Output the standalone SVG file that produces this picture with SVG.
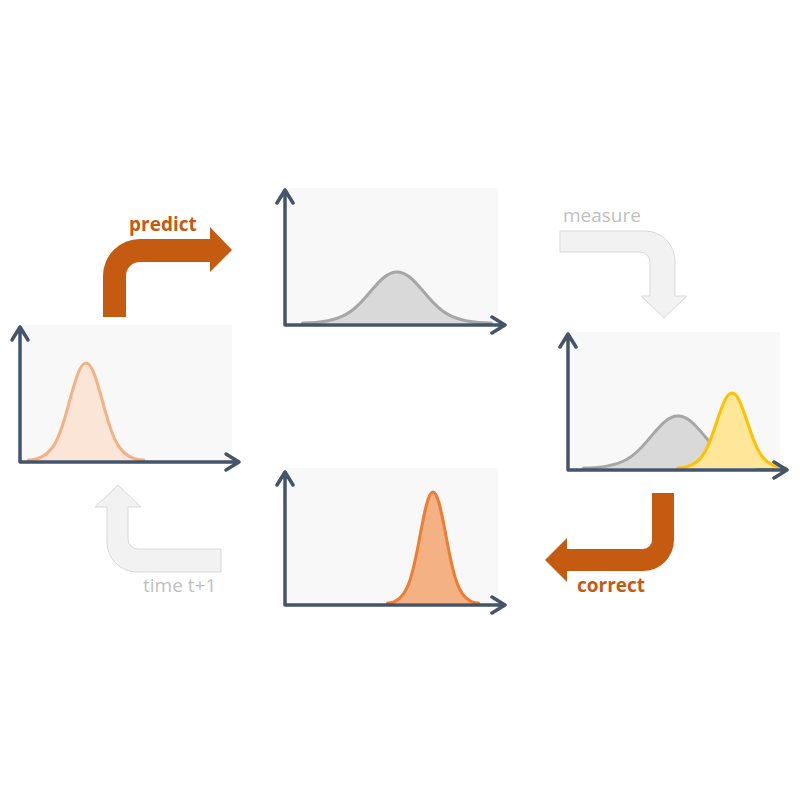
<svg xmlns="http://www.w3.org/2000/svg" width="800" height="800" viewBox="0 0 800 800">
  <style>
    .panel { fill: #f8f8f8; }
    .axis { fill: none; stroke: #44546a; stroke-width: 3.5; stroke-linecap: round; stroke-linejoin: round; }
    .curve { stroke-width: 3; stroke-linejoin: round; stroke-linecap: round; }
    .prior { fill: #fbe5d6; stroke: #f4b183; }
    .pred { fill: #d9d9d9; stroke: #a6a6a6; }
    .meas { fill: #ffe699; stroke: #ffc000; }
    .post { fill: #f4b183; stroke: #ed7d31; }
    .bold-arrow { fill: #c55a11; }
    .faint-arrow { fill: #f2f2f2; stroke: #d9d9d9; stroke-width: 1; }
    .lbl { font-family: "Open Sans", "Liberation Sans", sans-serif; font-size: 19px; }
    .lbl-bold { font-weight: bold; fill: #c55a11; }
    .lbl-faint { fill: #bfbfbf; }
  </style>

  <!-- state at time t -->
  <g id="prior">
    <rect class="panel" x="20" y="325" width="212" height="137"/>
    <path class="curve prior" d="M28.25,460 C55.5,460 61.25,430.58 69.5,401.17 C74.94,381.76 79.73,363 86,363 C92.27,363 97.06,381.76 102.5,401.17 C110.75,430.58 116.5,460 143.75,460"/>
    <path class="axis" d="M20,327 L20,462 L239,462 M12,340 L20,327 L28,340 M226,454 L239,462 L226,470"/>
  </g>

  <!-- predicted state -->
  <g id="prediction">
    <rect class="panel" x="285" y="188" width="213" height="137"/>
    <path class="curve pred" d="M302.5,323 C347.05,323 356.5,307.53 370,292.07 C378.91,281.86 386.74,272 397,272 C407.26,272 415.09,281.86 424,292.07 C437.5,307.53 446.95,323 491.5,323"/>
    <path class="axis" d="M285,190 L285,325 L505,325 M277,203 L285,190 L293,203 M492,317 L505,325 L492,333"/>
  </g>

  <!-- prediction with measurement -->
  <g id="measurement">
    <rect class="panel" x="568" y="332" width="212" height="138"/>
    <path class="curve pred" d="M583.5,468 C628.05,468 637.5,452.23 651,436.46 C659.91,426.06 667.74,416 678,416 C688.26,416 696.09,426.06 705,436.46 C718.5,452.23 727.95,468 772.5,468"/>
    <path class="curve meas" d="M677.75,468 C703.32,468 708.75,445.25 716.5,422.51 C721.61,407.5 726.11,393 732,393 C737.89,393 742.39,407.5 747.5,422.51 C755.25,445.25 760.68,468 786.25,468"/>
    <path class="axis" d="M568,334 L568,470 L787,470 M560,347 L568,334 L576,347 M774,462 L787,470 L774,478"/>
  </g>

  <!-- corrected state -->
  <g id="correction">
    <rect class="panel" x="285" y="468" width="213" height="137"/>
    <path class="curve post" d="M387.5,603 C408.95,603 413.5,569.33 420,535.68 C424.29,513.47 428.06,492 433,492 C437.94,492 441.71,513.47 446,535.68 C452.5,569.33 457.05,603 478.5,603"/>
    <path class="axis" d="M285,472 L285,605 L505,605 M277,485 L285,472 L293,485 M492,597 L505,605 L492,613"/>
  </g>

  <!-- cycle arrows between the states -->
  <g id="connectors">
    <g id="predict-step">
      <path class="bold-arrow" d="M103,317 L103,276 A37,37 0 0 1 140,239 L210,239 L210,227 L232,250 L210,272 L210,262 L140,262 A14,14 0 0 0 126,276 L126,317 Z"/>
      <text class="lbl lbl-bold" x="129" y="230.5">predict</text>
    </g>
    <g id="measure-step">
      <path class="faint-arrow" d="M560,231 L645,231 A30,30 0 0 1 675,261 L675,296 L687,296 L664,318 L641,296 L650,296 L650,262 A10,10 0 0 0 640,252 L560,252 Z"/>
      <text class="lbl lbl-faint" x="563" y="222">measure</text>
    </g>
    <g id="correct-step">
      <path class="bold-arrow" d="M652,493 L674,493 L674,540 A31,31 0 0 1 643,571 L567,571 L567,582 L545,560 L567,538 L567,549 L643,549 A9,9 0 0 0 652,540 Z"/>
      <text class="lbl lbl-bold" x="577" y="592">correct</text>
    </g>
    <g id="time-step">
      <path class="faint-arrow" d="M221,549 L221,572 L137,572 A30,30 0 0 1 107,542 L107,507 L95,507 L118,485 L141,507 L128,507 L128,539 A10,10 0 0 0 138,549 Z"/>
      <text class="lbl lbl-faint" x="143" y="592">time t+1</text>
    </g>
  </g>
</svg>
